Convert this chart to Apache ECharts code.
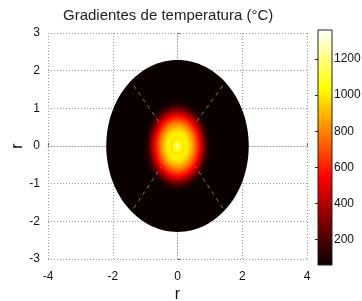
<!DOCTYPE html>
<html>
<head>
<meta charset="utf-8">
<script src="https://cdn.jsdelivr.net/npm/echarts@6/dist/echarts.min.js"></script>
<style>
  html, body { margin: 0; padding: 0; background: #fff; }
  #chart { width: 362px; height: 301px; }
</style>
</head>
<body>
<div id="chart"></div>
<script>
var xTicks = [-4, 4, 2];
var yTicks = [-3, 3, 1];
var cbarLabels = [200, 400, 600, 800, 1000, 1200];
var tempRange = [60, 1360];

// outer disk: x radius, y radius, temperature
var diskRadius = [2.2, 2.28];
var diskTemp = 60;

// hot spot rings (x radius) and their temperature, outside -> inside
var ringRadius = [1.10, 1.05, 1.00, 0.95, 0.90, 0.85, 0.80, 0.75, 0.70, 0.65, 0.60,
    0.55, 0.50, 0.45, 0.40, 0.35, 0.30, 0.25, 0.20, 0.15, 0.10, 0.05];
var ringTemp = [62, 70, 95, 140, 210, 290, 380, 470, 560, 640, 710,
    780, 840, 900, 950, 990, 1020, 1000, 980, 1030, 1100, 1230];
var spotAspect = 1.17;

// faint dashed diagonals
var diagSegments = [
    [[-1.35, 1.6], [-0.5, 0.55]],
    [[1.4, 1.6], [0.55, 0.6]],
    [[-1.35, -1.65], [-0.5, -0.55]],
    [[1.4, -1.65], [0.55, -0.55]]
];

var hotColors = ['#0b0000', '#550000', '#aa0000', '#ff0000', '#ff5500',
    '#ffaa00', '#ffff00', '#ffff80', '#ffffff'];

var rings = [[diskRadius[0], diskRadius[1], diskTemp]];
ringRadius.forEach(function (r, i) {
    rings.push([r, r * spotAspect, ringTemp[i]]);
});

var myChart = echarts.init(document.getElementById('chart'), null, { renderer: 'canvas' });

var font = 'Liberation Sans, Arial, sans-serif';
var dotted = { type: [1, 2], color: '#9a9a9a', width: 1 };

var option = {
    backgroundColor: '#fff',
    animation: false,
    title: {
        text: 'Gradientes de temperatura (°C)',
        left: 58,
        top: 3,
        textStyle: { fontFamily: font, fontSize: 15, fontWeight: 'normal', color: '#222' }
    },
    grid: [
        { left: 48, top: 33, width: 259, height: 226, outerBoundsMode: 'none' },
        { left: 318, top: 30, width: 14, height: 235, outerBoundsMode: 'none' }
    ],
    visualMap: {
        show: false,
        type: 'continuous',
        min: tempRange[0],
        max: tempRange[1],
        dimension: 2,
        seriesIndex: 0,
        inRange: { color: hotColors }
    },
    xAxis: [{
        type: 'value',
        gridIndex: 0,
        min: xTicks[0], max: xTicks[1], interval: xTicks[2],
        name: 'r',
        nameLocation: 'middle',
        nameGap: 28,
        nameMoveOverlap: false,
        nameTextStyle: { fontFamily: font, fontSize: 16, color: '#111' },
        axisLine: { show: true, lineStyle: dotted },
        axisTick: { show: true, inside: true, length: 3, lineStyle: { color: '#666' } },
        axisLabel: { fontFamily: font, fontSize: 12, color: '#111', margin: 12 },
        splitLine: { show: true, lineStyle: dotted }
    }, {
        type: 'value',
        gridIndex: 1,
        min: 0, max: 1,
        show: false
    }],
    yAxis: [{
        type: 'value',
        gridIndex: 0,
        min: yTicks[0], max: yTicks[1], interval: yTicks[2],
        name: 'r',
        nameLocation: 'middle',
        nameRotate: 90,
        nameGap: 22,
        nameMoveOverlap: false,
        nameTextStyle: { fontFamily: font, fontSize: 16, color: '#111' },
        axisLine: { show: true, lineStyle: dotted },
        axisTick: { show: true, inside: true, length: 3, lineStyle: { color: '#666' } },
        axisLabel: { fontFamily: font, fontSize: 12, color: '#111', margin: 8 },
        splitLine: { show: true, lineStyle: dotted }
    }, {
        type: 'value',
        gridIndex: 1,
        position: 'right',
        min: tempRange[0], max: tempRange[1],
        axisLine: { show: false },
        axisTick: { show: true, inside: true, length: 3, customValues: cbarLabels, lineStyle: { color: '#222' } },
        axisLabel: {
            fontFamily: font, fontSize: 12, color: '#111', margin: 2,
            customValues: cbarLabels,
            formatter: function (v) { return String(v); }
        },
        splitLine: { show: false }
    }, {
        type: 'value',
        gridIndex: 1,
        position: 'left',
        min: tempRange[0], max: tempRange[1],
        axisLine: { show: false },
        axisTick: { show: true, inside: true, length: 3, customValues: cbarLabels, lineStyle: { color: '#222' } },
        axisLabel: { show: false },
        splitLine: { show: false }
    }],
    series: [{
        type: 'custom',
        xAxisIndex: 0,
        yAxisIndex: 0,
        data: rings,
        encode: { x: 0, y: 1 },
        renderItem: function (params, api) {
            var c = api.coord([0, 0]);
            var s = api.size([api.value(0), api.value(1)]);
            return {
                type: 'ellipse',
                shape: { cx: c[0], cy: c[1], rx: s[0], ry: s[1] },
                style: { fill: api.visual('color') }
            };
        },
        z: 2
    }, {
        type: 'custom',
        xAxisIndex: 1,
        yAxisIndex: 1,
        data: [[0, tempRange[0], 1, tempRange[1]]],
        renderItem: function (params, api) {
            var p0 = api.coord([api.value(0), api.value(3)]);
            var p1 = api.coord([api.value(2), api.value(1)]);
            var stops = hotColors.map(function (c, i) {
                return { offset: 1 - i / (hotColors.length - 1), color: c };
            }).reverse();
            return {
                type: 'rect',
                shape: { x: p0[0], y: p0[1], width: p1[0] - p0[0], height: p1[1] - p0[1] },
                style: {
                    fill: new echarts.graphic.LinearGradient(0, 0, 0, 1, stops),
                    stroke: '#222',
                    lineWidth: 1
                }
            };
        },
        z: 1
    }].concat(diagSegments.map(function (seg) {
        return {
            type: 'line',
            xAxisIndex: 0,
            yAxisIndex: 0,
            data: seg,
            showSymbol: false,
            silent: true,
            lineStyle: { color: 'rgba(255,255,255,0.45)', width: 1, type: [4, 4] },
            z: 3
        };
    }))
};

myChart.setOption(option);
</script>
</body>
</html>
